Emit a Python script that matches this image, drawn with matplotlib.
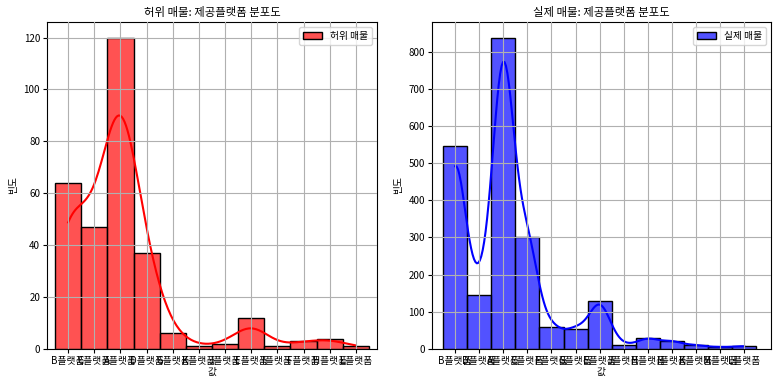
import numpy as np
import pandas as pd
import matplotlib
matplotlib.use("Agg")
import matplotlib.pyplot as plt
import seaborn as sns

# 한글 폰트 설정
plt.rcParams['font.family'] = ['Noto Sans CJK KR', 'DejaVu Sans']
plt.rcParams['axes.unicode_minus'] = False

# 허위 매물 - 제공플랫폼별 건수
fake_platforms = ["B플랫폼", "C플랫폼", "A플랫폼", "D플랫폼", "G플랫폼", "K플랫폼",
                  "J플랫폼", "E플랫폼", "I플랫폼", "F플랫폼", "H플랫폼", "L플랫폼"]
fake_counts = [64, 47, 120, 37, 6, 1, 2, 12, 1, 3, 4, 1]

# 실제 매물 - 제공플랫폼별 건수
real_platforms = ["B플랫폼", "D플랫폼", "A플랫폼", "C플랫폼", "F플랫폼", "G플랫폼", "E플랫폼",
                  "J플랫폼", "H플랫폼", "I플랫폼", "K플랫폼", "M플랫폼", "L플랫폼"]
real_counts = [545, 146, 838, 300, 58, 53, 130, 10, 29, 21, 10, 5, 8]


def plot_hist(ax, platforms, counts, color, label, title, margins):
    values = pd.Series(np.repeat(platforms, counts), name="값")
    sns.histplot(values, kde=True, color=color, edgecolor="black", alpha=0.68,
                 label=label, ax=ax)
    ax.set_xlim(-0.5 - margins[0], len(platforms) - 0.5 + margins[1])
    ax.set_title(title, fontsize=8.2, pad=4)
    ax.set_xlabel("값", fontsize=7, labelpad=1)
    ax.set_ylabel("빈도", fontsize=7)
    ax.tick_params(labelsize=7, length=3, pad=2)
    ax.legend(fontsize=7, loc="upper right")
    ax.grid(True)
    ax.set_axisbelow(False)


fig = plt.figure(figsize=(7.82, 3.85), dpi=100)
ax1 = fig.add_axes([0.0601, 0.0935, 0.422, 0.8495])
ax2 = fig.add_axes([0.5524, 0.0935, 0.4335, 0.8495])

plot_hist(ax1, fake_platforms, fake_counts, "red", "허위 매물",
          "허위 매물: 제공플랫폼 분포도", (0.31, 0.31))
plot_hist(ax2, real_platforms, real_counts, "blue", "실제 매물",
          "실제 매물: 제공플랫폼 분포도", (0.46, 0.61))

fig.savefig("out.png", dpi=100)
